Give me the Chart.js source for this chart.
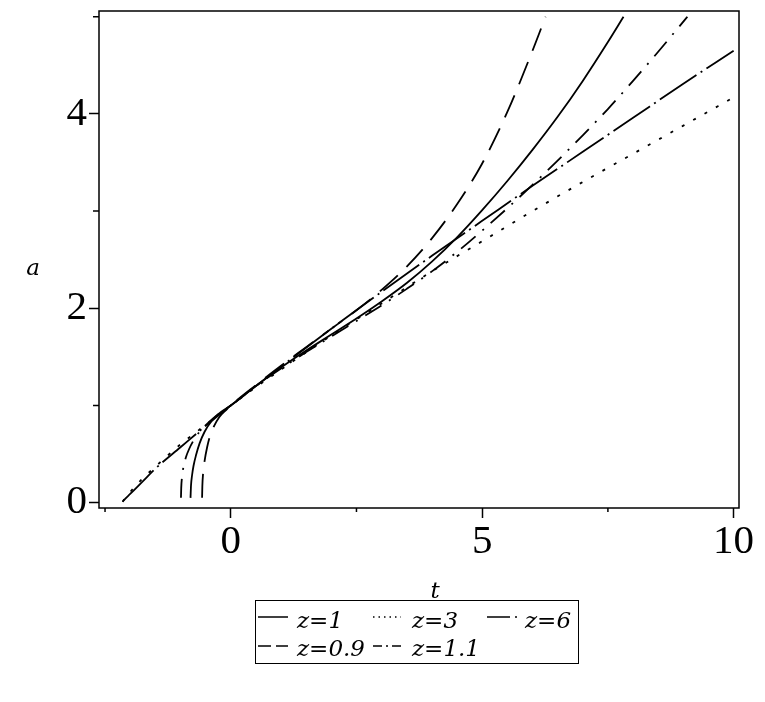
<!DOCTYPE html>
<html lang="en">
<head>
    <meta charset="UTF-8">
    <title>a(t)</title>
    <style>
        html, body { margin: 0; padding: 0; background: #fff; }
        #wrap { width: 765px; height: 702px; }
    </style>
</head>
<body>
    <div id="wrap">
        <canvas id="chart" width="765" height="702"></canvas>
    </div>
    <script src="https://cdn.jsdelivr.net/npm/chart.js@4/dist/chart.umd.min.js"></script>
    <script>
        // series: t values and a values for each z
        const tZ1  = [-0.80, -0.79, -0.77, -0.74, -0.69, -0.62, -0.52, -0.38, -0.2, 0, 0.5, 1, 1.5, 2, 2.5, 3, 3.5, 4, 4.5, 5, 5.5, 6, 6.5, 7, 7.5, 7.81]
        const aZ1  = [0.05, 0.18, 0.28, 0.38, 0.49, 0.61, 0.73, 0.84, 0.93, 1.00, 1.20, 1.39, 1.565, 1.73, 1.895, 2.07, 2.26, 2.48, 2.73, 3.01, 3.31, 3.63, 3.97, 4.34, 4.74, 5.00]

        const tZ3  = [-2.15, -2.1, -2.0, -1.75, -1.5, -1.0, -0.5, 0, 1, 2, 3, 4, 5, 6, 7, 8, 9, 10]
        const aZ3  = [0.01, 0.05, 0.11, 0.25, 0.37, 0.60, 0.80, 1.00, 1.37, 1.72, 2.05, 2.38, 2.69, 3.00, 3.30, 3.59, 3.88, 4.17]

        const tZ6  = [-2.15, -2.1, -2.0, -1.75, -1.5, -1.0, -0.5, 0, 1, 2, 3, 4, 5, 6, 7, 8, 9, 10]
        const aZ6  = [0.01, 0.04, 0.09, 0.22, 0.35, 0.57, 0.79, 1.00, 1.40, 1.79, 2.17, 2.54, 2.90, 3.26, 3.61, 3.96, 4.31, 4.65]

        const tZ09 = [-0.57, -0.565, -0.55, -0.52, -0.47, -0.41, -0.33, -0.23, -0.1, 0, 0.5, 1, 1.5, 2, 2.5, 3, 3.5, 4, 4.5, 5, 5.5, 6, 6.26]
        const aZ09 = [0.05, 0.17, 0.30, 0.43, 0.57, 0.69, 0.79, 0.88, 0.95, 1.00, 1.21, 1.41, 1.60, 1.79, 1.98, 2.19, 2.43, 2.72, 3.07, 3.49, 4.02, 4.65, 5.00]

        const tZ11 = [-0.99, -0.985, -0.97, -0.94, -0.89, -0.83, -0.74, -0.62, -0.45, -0.25, 0, 0.5, 1, 1.5, 2, 2.5, 3, 3.5, 4, 4.5, 5, 5.5, 6, 6.5, 7, 7.5, 8, 8.5, 9, 9.08]
        const aZ11 = [0.05, 0.15, 0.26, 0.37, 0.47, 0.55, 0.64, 0.73, 0.82, 0.91, 1.00, 1.20, 1.38, 1.55, 1.71, 1.87, 2.03, 2.20, 2.38, 2.58, 2.80, 3.03, 3.27, 3.52, 3.78, 4.05, 4.34, 4.64, 4.95, 5.00]

        const seriesLabels = ['z=1', 'z=3', 'z=6', 'z=0.9', 'z=1.1']

        const xTicks = [0, 5, 10]
        const xMinorTicks = [-2.5, 2.5, 7.5]
        const yTicks = [0, 2, 4]
        const yMinorTicks = [1, 3, 5]

        const zip = (ts, as) => ts.map((t, i) => ({x: t, y: as[i]}))

        function line(label, ts, as, dash, legendDash){
            return {
                label: label,
                data: zip(ts, as),
                borderColor: '#000',
                borderWidth: 1.8,
                borderDash: dash,
                legendDash: legendDash,
                pointRadius: 0,
                fill: false,
                cubicInterpolationMode: 'monotone'
            }
        }

        // frame, minor ticks, axis names and the boxed maple-style legend
        const maplePlot = {
            id: 'maplePlot',
            afterDraw(chart){
                const ctx = chart.ctx
                const area = chart.chartArea
                const xs = chart.scales.x
                const ys = chart.scales.y
                ctx.save()
                ctx.strokeStyle = '#000'
                ctx.lineWidth = 1.5
                ctx.setLineDash([])
                ctx.strokeRect(area.left, area.top, area.right - area.left, area.bottom - area.top)

                ctx.beginPath()
                xMinorTicks.forEach(v => {
                    const px = xs.getPixelForValue(v)
                    ctx.moveTo(px, area.bottom)
                    ctx.lineTo(px, area.bottom + 4)
                })
                yMinorTicks.forEach(v => {
                    const py = ys.getPixelForValue(v)
                    ctx.moveTo(area.left, py)
                    ctx.lineTo(area.left - 6, py)
                })
                ctx.stroke()

                ctx.fillStyle = '#000'
                ctx.font = 'italic 23px "DejaVu Serif"'
                ctx.textBaseline = 'alphabetic'
                ctx.textAlign = 'center'
                ctx.fillText('a', 33, 275)
                ctx.fillText('t', 435, 598)

                // legend box
                ctx.lineWidth = 1
                ctx.strokeRect(255.5, 600.5, 323, 63)
                const sampleX = [258, 373, 487]
                const sampleW = [30, 28, 33]
                const textX = [297, 412, 525]
                const sampleY = [617, 646]
                const textY = [628, 656]
                ctx.textAlign = 'left'
                chart.data.datasets.forEach((ds, i) => {
                    const col = i % 3
                    const row = Math.floor(i / 3)
                    ctx.beginPath()
                    ctx.lineWidth = 1.5
                    ctx.setLineDash(ds.legendDash)
                    ctx.moveTo(sampleX[col], sampleY[row])
                    ctx.lineTo(sampleX[col] + sampleW[col], sampleY[row])
                    ctx.stroke()
                    ctx.setLineDash([])
                    ctx.fillText(ds.label, textX[col], textY[row])
                })
                ctx.restore()
            }
        }

        const tickFont = {family: 'Liberation Serif', size: 41}

        new Chart(document.getElementById('chart').getContext('2d'), {
            type: 'line',
            data: {
                datasets: [
                    line(seriesLabels[0], tZ1, aZ1, [], []),
                    line(seriesLabels[1], tZ3, aZ3, [3, 10], [1.5, 4]),
                    line(seriesLabels[2], tZ6, aZ6, [44, 5, 2, 5], [23, 5, 2, 5]),
                    line(seriesLabels[3], tZ09, aZ09, [24, 12], [13, 5]),
                    line(seriesLabels[4], tZ11, aZ11, [19, 9, 2, 9], [9, 4, 2, 4])
                ]
            },
            options: {
                responsive: false,
                animation: false,
                devicePixelRatio: 1,
                layout: {padding: {left: 0, top: 11, right: 26, bottom: 134}},
                plugins: {legend: {display: false}, tooltip: {enabled: false}},
                scales: {
                    x: {
                        type: 'linear',
                        min: -2.62,
                        max: 10.107,
                        afterBuildTicks(scale){ scale.ticks = xTicks.map(v => ({value: v})) },
                        afterFit(scale){
                            scale.height = 60
                            scale.paddingLeft = 0
                            scale.paddingRight = 0
                        },
                        border: {display: false},
                        grid: {drawOnChartArea: false, tickLength: 10, tickWidth: 1.5, tickColor: '#000'},
                        ticks: {font: tickFont, color: '#000', padding: 0, maxRotation: 0,
                            callback: v => String(v)}
                    },
                    y: {
                        type: 'linear',
                        min: -0.0545,
                        max: 5.059,
                        afterBuildTicks(scale){ scale.ticks = yTicks.map(v => ({value: v})) },
                        afterFit(scale){
                            scale.width = 99
                            scale.paddingTop = 0
                            scale.paddingBottom = 0
                        },
                        border: {display: false},
                        grid: {drawOnChartArea: false, tickLength: 10, tickWidth: 1.5, tickColor: '#000'},
                        ticks: {font: tickFont, color: '#000', padding: 2,
                            callback: v => String(v)}
                    }
                }
            },
            plugins: [maplePlot]
        })
    </script>
</body>
</html>
